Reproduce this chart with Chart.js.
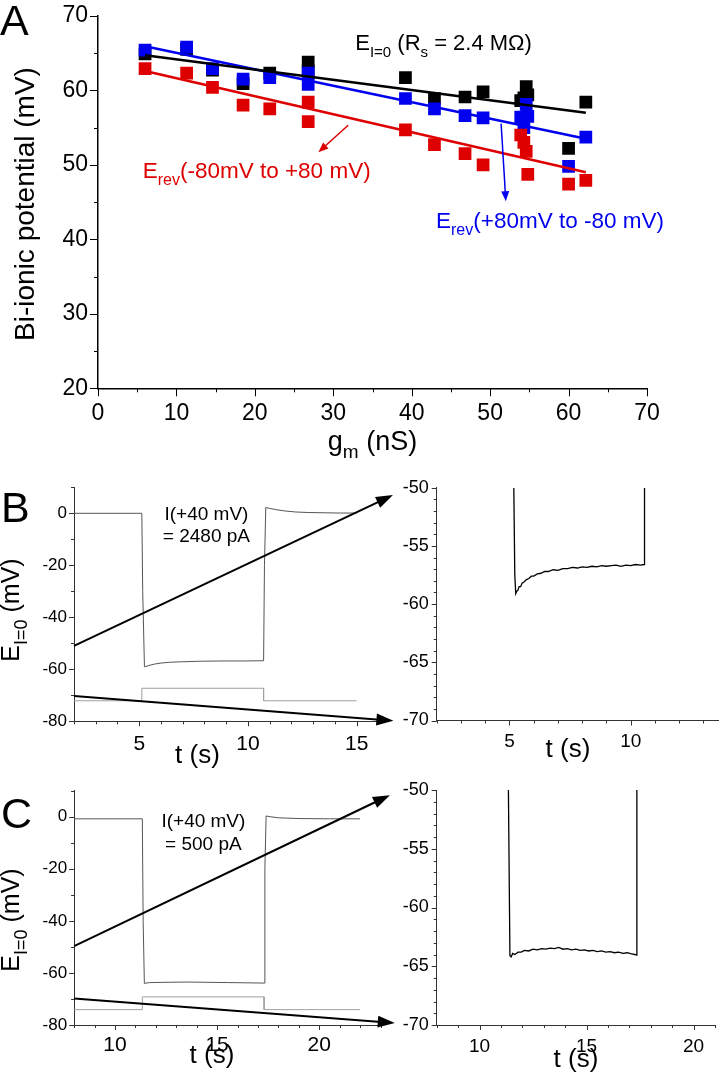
<!DOCTYPE html>
<html>
<head>
<meta charset="utf-8">
<script src="https://cdn.jsdelivr.net/npm/chart.js@4.4.1/dist/chart.umd.min.js"></script>
<style>
html, body { margin: 0; padding: 0; background: #fff; }
#fig { position: relative; width: 720px; height: 1075px; overflow: hidden; background: #fff; }
canvas { position: absolute; }
</style>
</head>
<body>
<div id="fig">
  <canvas id="chartA" width="720" height="470" style="left:0;top:0"></canvas>
  <canvas id="chartBl" width="400" height="305" style="left:0;top:470px"></canvas>
  <canvas id="chartBr" width="340" height="305" style="left:380px;top:470px"></canvas>
  <canvas id="chartCl" width="400" height="300" style="left:0;top:775px"></canvas>
  <canvas id="chartCr" width="340" height="300" style="left:380px;top:775px"></canvas>
</div>
<script>
// ---- panel A: bi-ionic potential vs membrane conductance ----
const gm       = [6.0, 11.3, 14.6, 18.5, 21.9, 26.8, 26.8, 39.2, 42.9, 46.8, 49.1, 53.9, 54.3, 54.6, 54.8, 60.0, 62.2];
const eZero    = [64.9, 65.5, 62.7, 60.9, 62.3, 63.8, 62.6, 61.7, 58.9, 59.1, 59.8, 58.6, 59.0, 60.5, 59.4, 52.2, 58.4];
const eRevDown = [65.4, 65.8, 62.9, 61.5, 61.7, 62.3, 60.8, 58.9, 57.5, 56.6, 56.3, 56.4, 55.0, 58.1, 56.5, 49.8, 53.7]; // +80 -> -80 (blue)
const eRevUp   = [62.9, 62.3, 60.4, 58.0, 57.5, 58.4, 55.8, 54.7, 52.7, 51.5, 50.0, 54.0, 53.0, 51.8, 48.7, 47.4, 47.9]; // -80 -> +80 (red)
// linear fits (end points)
const fitGm   = [6.0, 62.2];
const fitZero = [64.7, 57.0];
const fitDown = [65.9, 53.5];
const fitUp   = [62.6, 49.0];

// ---- panel B: I(+40 mV) = 2480 pA ----
const bT = [2.0, 5.12, 5.16, 5.24, 5.35, 5.5, 5.7, 6.0, 6.4, 7.0, 7.8, 8.8, 9.8, 10.72, 10.76, 10.82, 11.0, 11.3, 11.7, 12.2, 12.8, 13.5, 14.2, 15.0];
const bV = [0.0, 0.0, -30, -59.0, -58.8, -58.4, -58.0, -57.6, -57.3, -57.1, -56.9, -56.8, -56.8, -56.7, -20, 2.2, 1.9, 1.4, 0.9, 0.5, 0.3, 0.2, 0.1, 0.1];
const bStimT = [2.0, 5.12, 5.12, 10.72, 10.72, 15.0];
const bStimV = [-72.1, -72.1, -67.3, -67.3, -72.1, -72.1];
const bZoomT = [5.18, 5.22, 5.26, 5.3, 5.35, 5.4, 5.46, 5.52, 5.6, 5.7, 5.8, 5.9, 6.0, 6.15, 6.3, 6.45, 6.6, 6.8, 7.0, 7.2, 7.4, 7.6, 7.8, 8.0, 8.2, 8.4, 8.6, 8.8, 9.0, 9.2, 9.4, 9.6, 9.8, 10.0, 10.2, 10.4, 10.55, 10.57];
const bZoomV = [-50, -57.5, -59.1, -58.9, -58.8, -58.5, -58.5, -58.2, -58.1, -57.9, -57.8, -57.6, -57.6, -57.4, -57.35, -57.2, -57.2, -57.05, -57.1, -56.95, -56.95, -56.85, -56.9, -56.8, -56.85, -56.75, -56.8, -56.7, -56.75, -56.7, -56.65, -56.75, -56.65, -56.7, -56.6, -56.65, -56.6, -50];

// ---- panel C: I(+40 mV) = 500 pA ----
const cT = [8.0, 11.34, 11.38, 11.44, 11.7, 12.5, 13.5, 14.5, 15.5, 16.5, 17.3, 17.34, 17.4, 17.6, 18.0, 19.0, 20.5, 22.0];
const cV = [-0.8, -0.8, -40, -64.0, -63.7, -63.6, -63.5, -63.6, -63.7, -63.8, -63.9, -20, 0.3, 0.0, -0.4, -0.7, -0.8, -0.8];
const cStimT = [8.0, 11.34, 11.34, 17.3, 17.3, 22.0];
const cStimV = [-74.1, -74.1, -69.2, -69.2, -74.1, -74.1];
const cZoomT = [11.35, 11.42, 11.48, 11.55, 11.65, 11.8, 11.95, 12.1, 12.3, 12.5, 12.7, 12.9, 13.1, 13.3, 13.5, 13.7, 13.9, 14.1, 14.3, 14.5, 14.7, 14.9, 15.1, 15.3, 15.5, 15.7, 15.9, 16.1, 16.3, 16.5, 16.7, 16.9, 17.1, 17.25, 17.33, 17.35];
const cZoomV = [-50, -64.1, -64.2, -63.9, -64.0, -63.8, -63.8, -63.65, -63.7, -63.55, -63.6, -63.5, -63.55, -63.45, -63.5, -63.4, -63.55, -63.5, -63.6, -63.55, -63.65, -63.6, -63.7, -63.65, -63.75, -63.7, -63.8, -63.75, -63.85, -63.8, -63.9, -63.85, -63.95, -64.0, -64.05, -50];

const FONT = '"Liberation Sans", Arial, Helvetica, sans-serif';
const RED = 'rgb(222,0,0)';
const BLUE = 'rgb(0,0,238)';
Chart.defaults.font.family = FONT;
Chart.defaults.color = '#000';

function pts(xs, ys) {
    return xs.map((x, i) => ({ x: x, y: ys[i] }));
}

// text with subscripts: parts = [[text, isSub], ...]
function rich(ctx, parts, x, y, size, color, align) {
    const sub = Math.round(size * 0.7);
    const fontOf = p => (p[1] ? sub : size) + 'px ' + FONT;
    let w = 0;
    parts.forEach(p => { ctx.font = fontOf(p); w += ctx.measureText(p[0]).width; });
    let cx = align === 'center' ? x - w / 2 : x;
    ctx.fillStyle = color;
    ctx.textAlign = 'left';
    ctx.textBaseline = 'alphabetic';
    parts.forEach(p => {
        ctx.font = fontOf(p);
        ctx.fillText(p[0], cx, p[1] ? y + size * 0.3 : y);
        cx += ctx.measureText(p[0]).width;
    });
}

function richUp(ctx, parts, x, y, size, color) {
    ctx.save();
    ctx.translate(x, y);
    ctx.rotate(-Math.PI / 2);
    rich(ctx, parts, 0, 0, size, color, 'center');
    ctx.restore();
}

function arrow(ctx, x0, y0, x1, y1, color, lw, head, half) {
    const a = Math.atan2(y1 - y0, x1 - x0);
    const c = Math.cos(a), s = Math.sin(a);
    ctx.strokeStyle = color;
    ctx.fillStyle = color;
    ctx.lineWidth = lw;
    ctx.beginPath();
    ctx.moveTo(x0, y0);
    ctx.lineTo(x1 - head * 0.8 * c, y1 - head * 0.8 * s);
    ctx.stroke();
    ctx.beginPath();
    ctx.moveTo(x1, y1);
    ctx.lineTo(x1 - head * c + half * s, y1 - head * s - half * c);
    ctx.lineTo(x1 - head * c - half * s, y1 - head * s + half * c);
    ctx.closePath();
    ctx.fill();
}

// Origin-style outward ticks, short for unlabelled ones
function tickMarks(major, minor, color) {
    return {
        id: 'tickMarks',
        afterDraw(chart) {
            const ctx = chart.ctx, xs = chart.scales.x, ys = chart.scales.y;
            ctx.save();
            ctx.strokeStyle = color;
            ctx.lineWidth = 1;
            ctx.beginPath();
            xs.ticks.forEach(t => {
                const p = Math.round(xs.getPixelForValue(t.value)) + 0.5;
                ctx.moveTo(p, xs.top);
                ctx.lineTo(p, xs.top + (t.label === '' ? minor : major));
            });
            ys.ticks.forEach(t => {
                const p = Math.round(ys.getPixelForValue(t.value)) + 0.5;
                ctx.moveTo(ys.right, p);
                ctx.lineTo(ys.right - (t.label === '' ? minor : major), p);
            });
            ctx.stroke();
            ctx.restore();
        }
    };
}

function linAxis(o) {
    return {
        type: 'linear',
        min: o.min,
        max: o.max,
        border: { display: true, color: o.color || '#000', width: o.bw || 1 },
        grid: { display: true, drawOnChartArea: false, drawTicks: true, tickLength: o.tl, tickColor: 'rgba(0,0,0,0)' },
        ticks: {
            stepSize: o.step,
            autoSkip: false,
            includeBounds: false,
            maxRotation: 0,
            padding: o.pad,
            font: { size: o.fs },
            color: '#000',
            callback: v => (o.show(v) ? String(v) : '')
        },
        afterFit: s => {
            if (o.w !== undefined) s.width = o.w;
            if (o.h !== undefined) s.height = o.h;
        }
    };
}

function baseOptions(padding, x, y) {
    return {
        responsive: false,
        maintainAspectRatio: false,
        animation: false,
        events: [],
        layout: { padding: padding },
        plugins: { legend: { display: false }, tooltip: { enabled: false } },
        scales: { x: x, y: y }
    };
}

function traceSet(xs, ys, color, width) {
    return { data: pts(xs, ys), showLine: true, borderColor: color, borderWidth: width, pointRadius: 0, tension: 0 };
}

// ---------------- Panel A ----------------
new Chart(document.getElementById('chartA'), {
    type: 'scatter',
    data: {
        datasets: [
            { data: pts(fitGm, fitZero), showLine: true, borderColor: '#000', borderWidth: 2.5, pointRadius: 0, order: 0 },
            { data: pts(fitGm, fitDown), showLine: true, borderColor: BLUE, borderWidth: 2.5, pointRadius: 0, order: 0 },
            { data: pts(fitGm, fitUp), showLine: true, borderColor: RED, borderWidth: 2.5, pointRadius: 0, order: 0 },
            { data: pts(gm, eRevUp), pointStyle: 'rect', pointRadius: 9, backgroundColor: RED, borderWidth: 0, order: 1 },
            { data: pts(gm, eRevDown), pointStyle: 'rect', pointRadius: 9, backgroundColor: BLUE, borderWidth: 0, order: 2 },
            { data: pts(gm, eZero), pointStyle: 'rect', pointRadius: 9, backgroundColor: '#000', borderWidth: 0, order: 3 }
        ]
    },
    options: baseOptions(
        { left: 11, top: 13.3, right: 73, bottom: 21.7 },
        linAxis({ min: 0, max: 70, step: 5, show: v => v % 10 === 0, fs: 23, tl: 8, pad: 4, h: 60, bw: 1.5 }),
        linAxis({ min: 20, max: 70, step: 5, show: v => v % 10 === 0, fs: 23, tl: 8, pad: 2, w: 87, bw: 1.5 })
    ),
    plugins: [tickMarks(8, 4, '#000'), {
        id: 'decoA',
        afterDraw(chart) {
            const ctx = chart.ctx, x = chart.scales.x, y = chart.scales.y, area = chart.chartArea;
            ctx.save();
            rich(ctx, [['A']], 0, 35, 43, '#000', 'left');
            richUp(ctx, [['Bi-ionic potential (mV)']], 34, 204, 28, '#000');
            rich(ctx, [['g'], ['m', 1], [' (nS)']], (area.left + area.right) / 2, 450, 27, '#000', 'center');
            rich(ctx, [['E'], ['I=0', 1], [' (R'], ['s', 1], [' = 2.4 M\u03A9)']],
                x.getPixelForValue(32.8), y.getPixelForValue(65.4), 22, '#000', 'left');
            rich(ctx, [['E'], ['rev', 1], ['(-80mV to +80 mV)']],
                x.getPixelForValue(5.7), y.getPixelForValue(48.2), 22.5, RED, 'left');
            rich(ctx, [['E'], ['rev', 1], ['(+80mV to -80 mV)']],
                x.getPixelForValue(43.1), y.getPixelForValue(41.5), 22.5, BLUE, 'left');
            arrow(ctx, x.getPixelForValue(31.9), y.getPixelForValue(55.3),
                x.getPixelForValue(28.1), y.getPixelForValue(51.7), RED, 1.5, 10, 4);
            arrow(ctx, x.getPixelForValue(51.4), y.getPixelForValue(55.5),
                x.getPixelForValue(52.0), y.getPixelForValue(45.1), BLUE, 1.5, 10, 4);
            ctx.restore();
        }
    }]
});

// ---------------- Panel B ----------------
new Chart(document.getElementById('chartBl'), {
    type: 'scatter',
    data: { datasets: [traceSet(bStimT, bStimV, '#a0a0a0', 1), traceSet(bT, bV, '#555', 1)] },
    options: baseOptions(
        { left: 29, top: 17.3, right: 21.6, bottom: 13.7 },
        linAxis({ min: 2, max: 16, step: 1, show: v => v % 5 === 0, fs: 21, tl: 5, pad: 5, h: 40, color: '#333' }),
        linAxis({ min: -80, max: 10, step: 10, show: v => v % 20 === 0 && v <= 0, fs: 17, tl: 5, pad: 2, w: 45, color: '#333' })
    ),
    plugins: [tickMarks(5, 3, '#333'), {
        id: 'decoB',
        afterDraw(chart) {
            const ctx = chart.ctx, x = chart.scales.x, y = chart.scales.y;
            ctx.save();
            rich(ctx, [['B']], 1, 52, 43, '#000', 'left');
            richUp(ctx, [['E'], ['I=0', 1], [' (mV)']], 19, 140, 25, '#000');
            rich(ctx, [['t (s)']], 197.5, 292.5, 26, '#000', 'center');
            rich(ctx, [['I(+40 mV)']], x.getPixelForValue(8.09), y.getPixelForValue(-2.6), 19, '#000', 'center');
            rich(ctx, [['= 2480 pA']], x.getPixelForValue(8.09), y.getPixelForValue(-10.9), 19, '#000', 'center');
            arrow(ctx, x.getPixelForValue(2), y.getPixelForValue(-51),
                x.getPixelForValue(16.67), y.getPixelForValue(7.0), '#000', 2, 17, 6);
            arrow(ctx, x.getPixelForValue(2), y.getPixelForValue(-70.3),
                x.getPixelForValue(16.69), y.getPixelForValue(-79.8), '#000', 2, 17, 6);
            ctx.restore();
        }
    }]
});

new Chart(document.getElementById('chartBr'), {
    type: 'scatter',
    data: { datasets: [traceSet(bZoomT, bZoomV, '#000', 1.3)] },
    options: baseOptions(
        { left: 16.7, top: 17.7, right: 2, bottom: 14.5 },
        linAxis({ min: 2, max: 13.6, step: 1, show: v => v % 5 === 0, fs: 19, tl: 5, pad: 5, h: 40, color: '#333' }),
        linAxis({ min: -70, max: -50, step: 1, show: v => v % 5 === 0, fs: 18, tl: 5, pad: 3, w: 40, color: '#333' })
    ),
    plugins: [tickMarks(5, 3, '#333'), {
        id: 'decoBr',
        afterDraw(chart) {
            const ctx = chart.ctx;
            ctx.save();
            rich(ctx, [['t (s)']], 188, 287, 26, '#000', 'center');
            ctx.restore();
        }
    }]
});

// ---------------- Panel C ----------------
new Chart(document.getElementById('chartCl'), {
    type: 'scatter',
    data: { datasets: [traceSet(cStimT, cStimV, '#a0a0a0', 1), traceSet(cT, cV, '#555', 1)] },
    options: baseOptions(
        { left: 29.1, top: 15.7, right: 19.5, bottom: 10 },
        linAxis({ min: 8, max: 23, step: 1, show: v => v % 5 === 0, fs: 21, tl: 5, pad: 3, h: 40, color: '#333' }),
        linAxis({ min: -80, max: 10, step: 10, show: v => v % 20 === 0 && v <= 0, fs: 17, tl: 5, pad: 2, w: 45, color: '#333' })
    ),
    plugins: [tickMarks(5, 3, '#333'), {
        id: 'decoC',
        afterDraw(chart) {
            const ctx = chart.ctx, x = chart.scales.x, y = chart.scales.y;
            ctx.save();
            rich(ctx, [['C']], 1, 53, 43, '#000', 'left');
            richUp(ctx, [['E'], ['I=0', 1], [' (mV)']], 19, 145, 25, '#000');
            rich(ctx, [['t (s)']], 212, 288, 26, '#000', 'center');
            rich(ctx, [['I(+40 mV)']], x.getPixelForValue(14.33), y.getPixelForValue(-3.85), 19, '#000', 'center');
            rich(ctx, [['= 500 pA']], x.getPixelForValue(14.33), y.getPixelForValue(-12.8), 19, '#000', 'center');
            arrow(ctx, x.getPixelForValue(8), y.getPixelForValue(-49.7),
                x.getPixelForValue(23.46), y.getPixelForValue(8.3), '#000', 2, 17, 6);
            arrow(ctx, x.getPixelForValue(8), y.getPixelForValue(-69.8),
                x.getPixelForValue(23.7), y.getPixelForValue(-79.2), '#000', 2, 17, 6);
            ctx.restore();
        }
    }]
});

new Chart(document.getElementById('chartCr'), {
    type: 'scatter',
    data: { datasets: [traceSet(cZoomT, cZoomV, '#000', 1.3)] },
    options: baseOptions(
        { left: 16.7, top: 15, right: 1.6, bottom: 10 },
        linAxis({ min: 8, max: 21, step: 1, show: v => v % 5 === 0, fs: 19, tl: 5, pad: 5, h: 40, color: '#333' }),
        linAxis({ min: -70, max: -50, step: 1, show: v => v % 5 === 0, fs: 18, tl: 5, pad: 3, w: 40, color: '#333' })
    ),
    plugins: [tickMarks(5, 3, '#333'), {
        id: 'decoCr',
        afterDraw(chart) {
            const ctx = chart.ctx;
            ctx.save();
            rich(ctx, [['t (s)']], 196, 292, 26, '#000', 'center');
            ctx.restore();
        }
    }]
});
</script>
</body>
</html>
